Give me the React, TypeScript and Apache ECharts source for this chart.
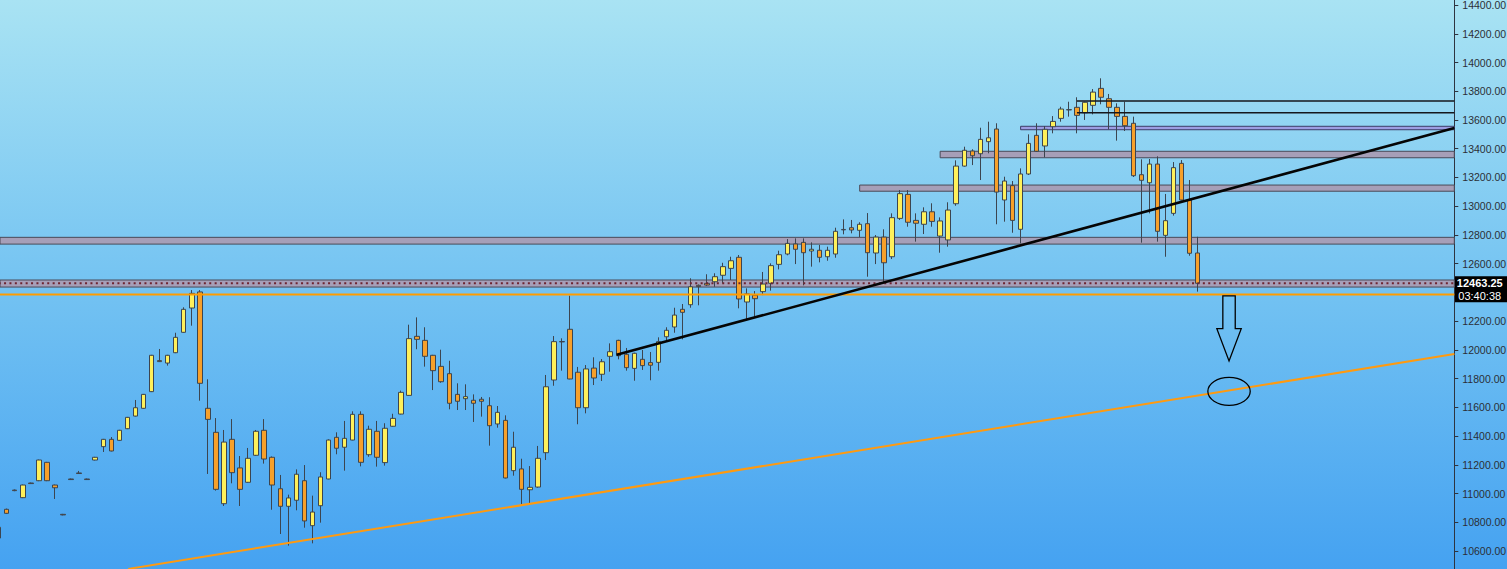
import React, { useEffect, useRef } from "react";
import * as echarts from "echarts";

// ---- candle data (one entry per bar, oldest first) ----
const OPEN = [
  10690, 10890, 11024, 10971, 11073, 11089, 11217, 11059, 10855, 11101,
  11143, 11101, 11233, 11326, 11377, 11370, 11451, 11539, 11593, 11709,
  11925, 11908, 11980, 12122, 12291, 12403, 11593, 11426, 10929, 11377,
  11178, 11078, 11266, 11440, 11252, 11033, 10911, 10953, 11089, 10776,
  10915, 11101, 11391, 11322, 11372, 11551, 11270, 11433, 11215, 11468,
  11553, 11683, 12094, 12066, 11962, 11885, 11834, 11690, 11660, 11649,
  11656, 11611, 11484, 11509, 11159, 11171, 11026, 11045, 11284, 11790,
  12055, 12143, 11844, 11597, 11873, 11830, 11955, 12066, 11969, 11871,
  11934, 11911, 11913, 12091, 12159, 12282, 12314, 12449, 12463, 12474,
  12519, 12567, 12644, 12333, 12381, 12405, 12463, 12595, 12667, 12737,
  12748, 12688, 12693, 12648, 12667, 12835, 12850, 12832, 12878, 12674,
  12785, 12648, 12915, 13082, 12901, 12874, 12961, 12792, 12765, 13017,
  13279, 13384, 13365, 13449, 13537, 13043, 13143, 12839, 13224, 13493,
  13419, 13553, 13611, 13670, 13688, 13650, 13702, 13820, 13748, 13688,
  13625, 13577, 13219, 13163, 13293, 12797, 12950, 13298, 13043, 12674,
];
const CLOSE = [
  10765, 10862, 11020, 11059, 11069, 11233, 11089, 11040, 10851, 11097,
  11139, 11097, 11252, 11377, 11296, 11440, 11530, 11597, 11690, 11962,
  11918, 11962, 12087, 12282, 12393, 11767, 11516, 11029, 11358, 11145,
  11029, 11245, 11433, 11240, 11059, 10911, 10969, 11134, 10809, 10871,
  11115, 11372, 11315, 11384, 11551, 11217, 11447, 11252, 11454, 11523,
  11704, 12078, 12073, 11955, 11855, 11778, 11628, 11642, 11674, 11628,
  11642, 11472, 11565, 11108, 11322, 11029, 11043, 11245, 11743, 12057,
  12058, 11797, 11597, 11867, 11804, 11917, 11987, 11959, 11876, 11976,
  11890, 11893, 12057, 12136, 12242, 12261, 12439, 12440, 12451, 12509,
  12579, 12620, 12354, 12389, 12356, 12458, 12586, 12662, 12741, 12700,
  12676, 12700, 12644, 12693, 12825, 12838, 12834, 12874, 12676, 12785,
  12606, 12920, 13087, 12888, 12881, 12961, 12894, 12897, 12973, 13279,
  13389, 13351, 13465, 13476, 13098, 13175, 12901, 13224, 13437, 13382,
  13535, 13590, 13676, 13672, 13632, 13723, 13794, 13758, 13688, 13625,
  13560, 13212, 13180, 13293, 12825, 12899, 13268, 13043, 12672, 12463.25,
];
const LOW = [
  10680, 10858, 11016, 10968, 11066, 11086, 11086, 10962, 10848, 11094,
  11136, 11094, 11230, 11289, 11293, 11367, 11448, 11536, 11590, 11706,
  11915, 11890, 11977, 12119, 12168, 11646, 11136, 11020, 10913, 11071,
  10913, 11075, 11262, 11208, 10887, 10718, 10637, 10883, 10762, 10653,
  10797, 11098, 11273, 11159, 11370, 11189, 11256, 11187, 11194, 11465,
  11550, 11680, 12004, 11883, 11720, 11771, 11586, 11581, 11581, 11498,
  11535, 11333, 11458, 11105, 11124, 10925, 10932, 11040, 11233, 11750,
  11855, 11795, 11482, 11558, 11755, 11783, 11848, 11934, 11855, 11785,
  11860, 11788, 11855, 12055, 12119, 12073, 12293, 12310, 12445, 12439,
  12463, 12486, 12289, 12214, 12230, 12381, 12412, 12560, 12658, 12597,
  12449, 12579, 12609, 12620, 12641, 12804, 12811, 12785, 12509, 12597,
  12463, 12632, 12904, 12857, 12753, 12806, 12857, 12676, 12718, 13003,
  13275, 13286, 13182, 13368, 12874, 12892, 12815, 12741, 13217, 13377,
  13340, 13507, 13588, 13623, 13507, 13600, 13639, 13709, 13535, 13456,
  13523, 13203, 12746, 12950, 12753, 12648, 12934, 13040, 12655, 12405,
];
const HIGH = [
  10770, 10895, 11028, 11062, 11076, 11236, 11220, 11062, 10858, 11104,
  11157, 11104, 11255, 11380, 11393, 11443, 11533, 11651, 11693, 11965,
  12006, 11965, 12119, 12296, 12416, 12416, 11795, 11525, 11442, 11518,
  11261, 11317, 11442, 11518, 11258, 11129, 10992, 11168, 11198, 10985,
  11148, 11377, 11426, 11505, 11572, 11572, 11472, 11505, 11489, 11555,
  11716, 12175, 12226, 12157, 11965, 12001, 11924, 11767, 11760, 11690,
  11672, 11670, 11609, 11544, 11430, 11242, 11191, 11331, 11825, 12096,
  12080, 12377, 11881, 11894, 11948, 11936, 12045, 12070, 12013, 11980,
  11999, 11985, 12087, 12157, 12293, 12319, 12498, 12455, 12526, 12533,
  12606, 12648, 12660, 12428, 12409, 12542, 12602, 12690, 12771, 12776,
  12776, 12748, 12730, 12718, 12850, 12908, 12904, 12888, 12952, 12799,
  12839, 12950, 13112, 13112, 12950, 12992, 13020, 12922, 13027, 13319,
  13414, 13396, 13546, 13588, 13577, 13205, 13175, 13263, 13500, 13577,
  13558, 13627, 13692, 13727, 13758, 13727, 13815, 13890, 13781, 13716,
  13727, 13623, 13326, 13328, 13347, 13085, 13307, 13321, 13182, 12787,
];

// ---- axis ----
const Y_MIN = 10400;
const Y_MAX = 14600;
const Y_STEP = 200;
const Y_VISIBLE_LOW = 10500;
const Y_VISIBLE_HIGH = 14420;
const LAST_PRICE = 12463.25;
const COUNTDOWN = "03:40:38";
const SLOT_COUNT = 181; // bars + empty future slots

// ---- drawings (x in bar-index units, y in price) ----
const ZONE_START = [0, 0, 107, 117, 127];
const ZONE_TOP = [12486, 12783, 13147, 13382, 13556];
const ZONE_BOTTOM = [12437, 12736, 13104, 13337, 13532];
const ZONE_KIND = ["grey", "grey", "grey", "grey", "blue"];
const RAY_START = [134, 134];
const RAY_LEVEL = [13732, 13650];
const SUPPORT_LEVEL = 12386;
const TREND_BLACK = [[76.8, 11965], [180.9, 13544]];
const TREND_ORANGE = [[16.1, 10475], [180.9, 11971]];
const ARROW_AT = { idx: 152.9, top: 12375 };
const ELLIPSE_AT = { idx: 152.9, value: 11711 };

export default function App() {
  const ref = useRef<HTMLDivElement>(null);

  useEffect(() => {
    const el = ref.current!;
    const chart = echarts.init(el, null, { renderer: "svg" });

    const slot = 8.047;
    const firstX = -1.35;
    const axisX = 1454.3;
    const topPx = -23.7;
    const bottomPx = 579.7;
    const gridH = bottomPx - topPx;
    const xMinVal = (0 - firstX) / slot;
    const xMaxVal = (axisX - firstX) / slot;
    const xEnd = xMaxVal;

    const categories = Array.from({ length: SLOT_COUNT }, (_, i) => String(i));
    const candles = OPEN.map((o, i) => [o, CLOSE[i], LOW[i], HIGH[i]]);

    const zoneData = ZONE_START.map((x0, i) => {
      const blue = ZONE_KIND[i] === "blue";
      return [
        {
          coord: [x0, ZONE_TOP[i]],
          itemStyle: {
            color: blue ? "#9c9de2" : "#a69fb8",
            borderColor: blue ? "#3c3c66" : "#4a4a58",
            borderWidth: 1,
            opacity: 1,
          },
        },
        { coord: [xEnd, ZONE_BOTTOM[i]] },
      ];
    });

    const lineSeries = (data: number[][], color: string, width: number, type: any = "solid", z = 3) => ({
      type: "line",
      xAxisIndex: 1,
      yAxisIndex: 1,
      data,
      symbol: "none",
      silent: true,
      clip: true,
      z,
      lineStyle: { color, width, type },
    });

    const option: any = {
      animation: false,
      backgroundColor: "transparent",
      grid: [
        {
          left: firstX - slot / 2,
          top: topPx,
          width: slot * SLOT_COUNT,
          height: gridH,
          outerBoundsMode: "none",
          containLabel: false,
        },
        {
          left: 0,
          top: topPx,
          width: axisX,
          height: gridH,
          outerBoundsMode: "none",
          containLabel: false,
        },
      ],
      xAxis: [
        { type: "category", gridIndex: 0, data: categories, boundaryGap: true, show: false },
        { type: "value", gridIndex: 1, min: xMinVal, max: xMaxVal, show: false },
      ],
      yAxis: [
        { type: "value", gridIndex: 0, min: Y_MIN, max: Y_MAX, show: false },
        {
          type: "value",
          gridIndex: 1,
          min: Y_MIN,
          max: Y_MAX,
          interval: Y_STEP,
          position: "right",
          axisLine: { show: true, lineStyle: { color: "#2e3440", width: 1 } },
          axisTick: { show: true, length: 4, lineStyle: { color: "#2e3440" } },
          splitLine: { show: false },
          axisLabel: {
            margin: 8,
            color: "#2b2f36",
            fontSize: 10.5,
            fontFamily: "Liberation Sans",
            formatter: (v: number) =>
              Math.abs(v - LAST_PRICE) < 100 || v < Y_VISIBLE_LOW || v > Y_VISIBLE_HIGH ? "" : v.toFixed(2),
          },
        },
      ],
      series: [
        {
          type: "line",
          xAxisIndex: 1,
          yAxisIndex: 1,
          data: [],
          silent: true,
          markArea: { silent: true, label: { show: false }, data: zoneData },
        },
        {
          type: "candlestick",
          xAxisIndex: 0,
          yAxisIndex: 0,
          data: candles,
          barWidth: 5,
          z: 2,
          itemStyle: {
            color: "#fff05a",
            color0: "#f7a02a",
            borderColor: "#3c4550",
            borderColor0: "#3c4550",
            borderWidth: 1,
          },
        },
        lineSeries([[0, LAST_PRICE], [xEnd, LAST_PRICE]], "#6e2430", 2, [2, 3.4], 3),
        lineSeries([[0, SUPPORT_LEVEL], [xEnd, SUPPORT_LEVEL]], "#ff9c00", 2),
        ...RAY_START.map((x0, i) => lineSeries([[x0, RAY_LEVEL[i]], [xEnd, RAY_LEVEL[i]]], "#15171c", 1.6)),
        lineSeries(TREND_ORANGE, "#ff9a10", 2),
        lineSeries(TREND_BLACK, "#050505", 2.6, "solid", 4),
      ],
    };
    chart.setOption(option);

    const toPx = (x: number, y: number) =>
      chart.convertToPixel({ xAxisIndex: 1, yAxisIndex: 1 } as any, [x, y]) as number[];
    const pricePx = toPx(0, LAST_PRICE)[1];
    const arrow = toPx(ARROW_AT.idx, ARROW_AT.top);
    const ell = toPx(ELLIPSE_AT.idx, ELLIPSE_AT.value);
    const ax = arrow[0];
    const ay = arrow[1];

    chart.setOption({
      graphic: [
        {
          type: "rect",
          shape: { x: axisX + 0.7, y: pricePx - 7, width: 60, height: 26 },
          style: { fill: "#000" },
          z: 10,
        },
        {
          type: "text",
          x: axisX + 2.5,
          y: pricePx,
          style: { text: String(LAST_PRICE), fill: "#fff", font: "bold 11px 'Liberation Sans'", verticalAlign: "middle" },
          z: 11,
        },
        {
          type: "text",
          x: axisX + 4,
          y: pricePx + 13,
          style: { text: COUNTDOWN, fill: "#fff", font: "11px 'Liberation Sans'", verticalAlign: "middle" },
          z: 11,
        },
        {
          type: "polygon",
          shape: {
            points: [
              [ax - 6.2, ay],
              [ax + 6.2, ay],
              [ax + 6.2, ay + 32.7],
              [ax + 12.2, ay + 32.7],
              [ax, ay + 65],
              [ax - 12.2, ay + 32.7],
              [ax - 6.2, ay + 32.7],
            ],
          },
          style: { fill: "none", stroke: "#000", lineWidth: 1.3 },
          z: 10,
        },
        {
          type: "ellipse",
          shape: { cx: ell[0], cy: ell[1], rx: 21.2, ry: 14 },
          style: { fill: "none", stroke: "#000", lineWidth: 1.3 },
          z: 10,
        },
      ],
    });

    return () => chart.dispose();
  }, []);

  return (
    <div
      ref={ref}
      style={{
        position: "fixed",
        left: 0,
        top: 0,
        width: 1507,
        height: 569,
        background: "linear-gradient(180deg, #a9e3f3 0%, #74c3f2 50%, #45a2f1 100%)",
      }}
    />
  );
}
